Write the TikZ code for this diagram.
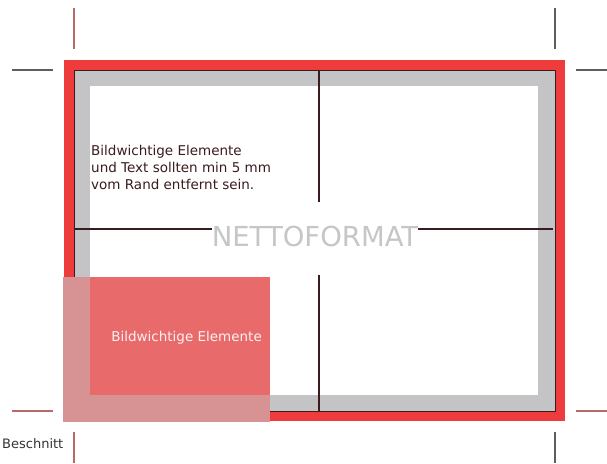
\documentclass[tikz,border=0pt]{standalone}
\usepackage{fontspec}
\setmainfont{DejaVu Sans}
\definecolor{bleedred}{HTML}{EE3B3B}
\definecolor{safegray}{HTML}{C4C4C6}
\definecolor{trimline}{HTML}{3B1C1E}
\definecolor{markgray}{HTML}{5E5E5E}
\definecolor{markred}{HTML}{B86A6A}
\definecolor{boxpink}{HTML}{D79393}
\definecolor{boxred}{HTML}{E86A6A}
\definecolor{nettogray}{HTML}{C6C6C6}
\tikzset{
  cropmark/.style={line width=1.6pt,markgray},
  cropmarkred/.style={line width=1.6pt,markred},
  centerline/.style={line width=1.8pt,trimline},
  label/.style={inner sep=0pt,anchor=north west,font=\fontsize{13.5}{17}\selectfont,text=trimline,align=left},
}
\begin{document}
\begin{tikzpicture}[x=1pt,y=-1pt]
\useasboundingbox (0,0) rectangle (607,463);
% bleed (red), safe zone (gray), net (white)
\fill[bleedred] (64,60) rectangle (565,421);
\fill[safegray] (74,70) rectangle (555,411);
\fill[white] (90,86) rectangle (538,395);
\draw[trimline,line width=1pt] (74,70) rectangle (555,411);
% crop marks
\coordinate (tlv1) at (74,8);   \coordinate (tlv2) at (74,49);
\coordinate (tlh1) at (12,70);  \coordinate (tlh2) at (53,70);
\coordinate (trv1) at (555,8);  \coordinate (trv2) at (555,49);
\coordinate (trh1) at (576,70); \coordinate (trh2) at (607,70);
\coordinate (blh1) at (12,411); \coordinate (blh2) at (53,411);
\coordinate (blv1) at (74,432); \coordinate (blv2) at (74,463);
\coordinate (brh1) at (576,411);\coordinate (brh2) at (607,411);
\coordinate (brv1) at (555,432);\coordinate (brv2) at (555,463);
\draw[cropmarkred] (tlv1) -- (tlv2);
\draw[cropmark] (tlh1) -- (tlh2);
\draw[cropmark] (trv1) -- (trv2);
\draw[cropmark] (trh1) -- (trh2);
\draw[cropmarkred] (blh1) -- (blh2);
\draw[cropmarkred] (blv1) -- (blv2);
\draw[cropmarkred] (brh1) -- (brh2);
\draw[cropmark] (brv1) -- (brv2);
% centre label and lines
\node[inner sep=0pt,text=nettogray,font=\fontsize{27.5}{27.5}\selectfont] (netto) at (315,236) {NETTOFORMAT};
\coordinate (cl) at (74,229);  \coordinate (cr) at (553,229);
\coordinate (ct) at (319,70);  \coordinate (ctb) at (319,202);
\coordinate (cbt) at (319,275); \coordinate (cb) at (319,411);
\draw[centerline] (cl) -- (netto.west |- cl);
\draw[centerline] (netto.east |- cr) -- (cr);
\draw[centerline] (ct) -- (ctb);
\draw[centerline] (cbt) -- (cb);
% note text
\node[label] (note) at (91,145) {Bildwichtige Elemente\\und Text sollten min 5 mm\\vom Rand entfernt sein.};
% overlay box
\fill[boxpink] (63,277) rectangle (270,422);
\fill[boxred] (90,277) rectangle (270,395);
\node[inner sep=0pt,text=white!90!boxred,font=\fontsize{13.5}{13.5}\selectfont,anchor=base east] (elem) at (262,341) {Bildwichtige Elemente};
% Beschnitt label
\node[inner sep=0pt,text=black!80,font=\fontsize{13}{13}\selectfont,anchor=base west] (besch) at (2,448) {Beschnitt};
\end{tikzpicture}
\end{document}
